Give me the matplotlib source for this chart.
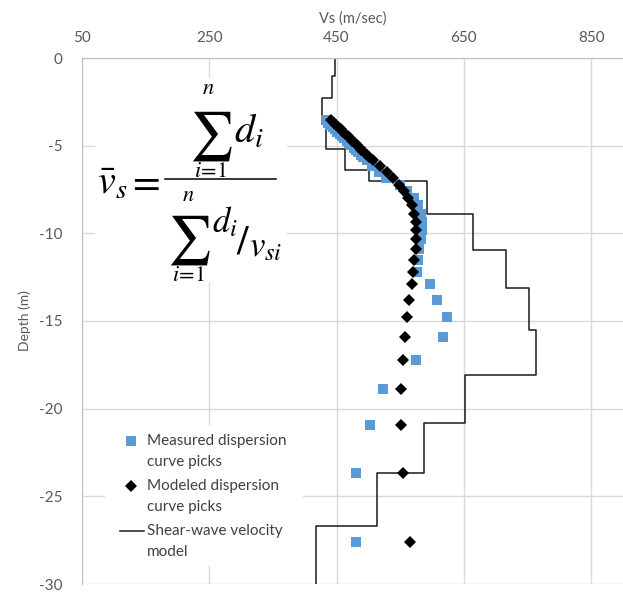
import numpy as np
import matplotlib
matplotlib.use("Agg")
import matplotlib.pyplot as plt
from matplotlib.lines import Line2D
from matplotlib.patches import Rectangle

plt.rcParams['font.family'] = ['Lato', 'DejaVu Sans']
plt.rcParams['mathtext.fontset'] = 'stix'
plt.rcParams['axes.unicode_minus'] = False

# layered shear-wave velocity model (velocity, bottom depth of layer)
layer_vs = [447, 443, 427, 433, 463, 501, 592, 664, 716, 752, 763, 651, 587, 514, 418]
layer_bottom = [-1.0, -2.29, -3.7, -5.2, -6.36, -6.99, -8.88, -10.97, -13.14,
                -15.51, -18.1, -20.8, -23.69, -26.72, -30.0]

# dispersion curve picks, plotted against pseudo-depth
pick_depth = [-3.55, -3.68, -3.81, -3.94, -4.07, -4.20, -4.33, -4.46, -4.59,
              -4.72, -4.85, -4.98, -5.11, -5.24, -5.38, -5.52, -5.66, -5.82,
              -6.14, -6.52, -6.84, -7.22, -7.60, -7.97, -8.41, -8.88, -9.36,
              -9.83, -10.30, -10.91, -11.52, -12.18, -12.90, -13.79, -14.75,
              -15.89, -17.22, -18.86, -20.95, -23.69, -27.61]
measured_vs = [433, 437, 440, 444, 448, 451, 455, 459, 462, 466, 470, 473,
               477, 480, 484, 488, 492, 498,
               506, 516, 527, 549, 560, 571, 578, 582, 584, 584, 582, 580,
               578, 577, 596, 607, 623, 617, 574, 523, 503, 480, 480]
modeled_vs = [442, 446, 449, 453, 457, 460, 464, 468, 471, 475, 479, 482,
              486, 489, 493, 497, 501, 507,
              518, 529, 539, 548, 556, 562, 569, 572, 574, 574, 574, 574,
              572, 570, 568, 564, 560, 557, 554, 551, 551, 554, 565]

xticks = [50, 250, 450, 650, 850]
yticks = [0, -5, -10, -15, -20, -25, -30]

legend_labels = [['Measured dispersion', 'curve picks'],
                 ['Modeled dispersion', 'curve picks'],
                 ['Shear-wave velocity', 'model']]

W, H = 623, 592
BLUE = '#5b9bd5'
LINE = '#1a1a1a'

# step outline of the layer model
tops = [0.0] + layer_bottom[:-1]
model_x = np.repeat(layer_vs, 2)
model_y = np.column_stack([tops, layer_bottom]).ravel()

fig = plt.figure(figsize=(W / 100, H / 100), dpi=100)
ax = fig.add_axes([82 / W, 8 / H, 541 / W, 526 / H])

ax.plot(model_x, model_y, color=LINE, lw=1.1, zorder=2)
ax.plot(measured_vs, pick_depth, 's', color=BLUE, ms=6.5, mew=0, zorder=3)
ax.plot(modeled_vs, pick_depth, 'D', color='black', ms=6, mew=0, zorder=4)

ax.set_xlim(50, 900)
ax.set_ylim(-30, 0)
ax.set_xticks(xticks)
ax.set_yticks(yticks)
ax.xaxis.tick_top()
ax.xaxis.set_label_position('top')
ax.tick_params(length=0, labelsize=11, labelcolor='#595959')
ax.tick_params(axis='x', pad=9)
ax.tick_params(axis='y', pad=14)
ax.grid(color='#d9d9d9', lw=1)
ax.set_axisbelow(True)
for side in ['right', 'bottom']:
    ax.spines[side].set_visible(False)
for side in ['left', 'top']:
    ax.spines[side].set_color('#bfbfbf')
ax.set_xlabel('Vs (m/sec)', fontsize=10.5, color='#595959', labelpad=6)
ax.set_ylabel('Depth (m)', fontsize=10, color='#595959', labelpad=6)


def fx(x):
    return x / W


def fy(y):
    return 1 - y / H


# averaging formula, laid out piece by piece in pixel positions
def put(x, y, s, size, ha='center', va='center', color='black'):
    fig.text(fx(x), fy(y), s, fontsize=size, ha=ha, va=va, color=color)


fig.add_artist(Rectangle((fx(95), fy(282)), 192 / W, 204 / H,
                         transform=fig.transFigure, facecolor='white',
                         edgecolor='none', zorder=1))
put(97, 194, r'$\bar{v}_s$', 29, ha='left', va='baseline')
put(144, 181, r'$=$', 29)
fig.add_artist(Line2D([fx(165), fx(276)], [fy(179), fy(179)],
                      transform=fig.transFigure, color='black', lw=1.1))
# numerator
put(208, 88, r'$n$', 16)
put(211, 136, r'$\sum$', 35)
put(211, 171, r'$i\!=\!1$', 16)
put(234, 143, r'$d_i$', 29, ha='left', va='baseline')
# denominator
put(188, 195, r'$n$', 16)
put(189, 240, r'$\sum$', 35)
put(189, 275, r'$i\!=\!1$', 16)
put(212, 232, r'$d_i$', 25, ha='left', va='baseline')
put(243, 242, r'$/$', 30)
put(249, 256, r'$v_{si}$', 25, ha='left', va='baseline')

# legend box: key on the first line of each two-line entry
fig.add_artist(Rectangle((fx(105), fy(566)), 198 / W, 141 / H,
                         transform=fig.transFigure, facecolor='white',
                         edgecolor='none', zorder=1))
keys = [dict(ls='none', marker='s', color=BLUE, ms=6.5, mew=0),
        dict(ls='none', marker='D', color='black', ms=6, mew=0),
        dict(color=LINE, lw=1.1)]
row_y = [441, 486, 531]
for key, y0, lines in zip(keys, row_y, legend_labels):
    if key.get('marker'):
        fig.add_artist(Line2D([fx(131)], [fy(y0)], transform=fig.transFigure, **key))
    else:
        fig.add_artist(Line2D([fx(120), fx(144)], [fy(y0), fy(y0)],
                              transform=fig.transFigure, **key))
    for k, line in enumerate(lines):
        put(147, y0 + 21 * k, line, 11, ha='left', color='#404040')

fig.savefig('out.png', dpi=100)
